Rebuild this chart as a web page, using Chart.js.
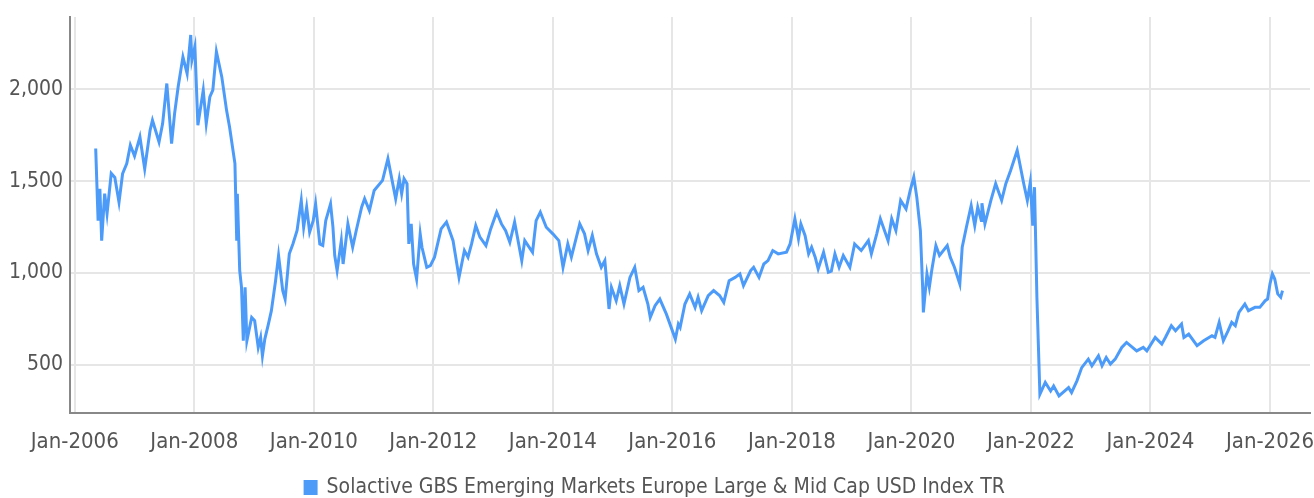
<!DOCTYPE html>
<html>
<head>
<meta charset="utf-8">
<script src="https://cdn.jsdelivr.net/npm/chart.js@4.4.1/dist/chart.umd.min.js"></script>
<style>
  html, body { margin: 0; padding: 0; background: #fff; overflow: hidden; }
  #wrap { width: 1314px; height: 508px; position: relative; }
</style>
</head>
<body>
<div id="wrap"><canvas id="chart"></canvas></div>
<script>
  // index level, dates as decimal years
  const seriesName = 'Solactive GBS Emerging Markets Europe Large & Mid Cap USD Index TR';

  const dates = [
    2006.35, 2006.39, 2006.42, 2006.45, 2006.50, 2006.54, 2006.61, 2006.67, 2006.74, 2006.80,
    2006.87, 2006.93, 2007.00, 2007.09, 2007.17, 2007.26, 2007.30, 2007.41, 2007.47, 2007.54,
    2007.62, 2007.67, 2007.73, 2007.81, 2007.88, 2007.94, 2007.96, 2008.01, 2008.06, 2008.15,
    2008.20, 2008.26, 2008.31, 2008.37, 2008.46, 2008.54, 2008.59, 2008.68, 2008.71, 2008.72,
    2008.76, 2008.79, 2008.82, 2008.85, 2008.88, 2008.96, 2009.01, 2009.07, 2009.11, 2009.14,
    2009.18, 2009.24, 2009.29, 2009.36, 2009.41, 2009.48, 2009.52, 2009.59, 2009.65, 2009.72,
    2009.79, 2009.83, 2009.88, 2009.93, 2009.99, 2010.03, 2010.10, 2010.15, 2010.20, 2010.28,
    2010.32, 2010.35, 2010.39, 2010.46, 2010.49, 2010.57, 2010.65, 2010.71, 2010.80, 2010.85,
    2010.93, 2011.01, 2011.15, 2011.24, 2011.31, 2011.37, 2011.43, 2011.47, 2011.51, 2011.56,
    2011.59, 2011.63, 2011.67, 2011.72, 2011.78, 2011.81, 2011.89, 2011.95, 2012.02, 2012.13,
    2012.22, 2012.33, 2012.43, 2012.52, 2012.58, 2012.64, 2012.71, 2012.78, 2012.88, 2012.96,
    2013.06, 2013.14, 2013.21, 2013.28, 2013.36, 2013.48, 2013.53, 2013.66, 2013.72, 2013.79,
    2013.89, 2014.00, 2014.10, 2014.17, 2014.25, 2014.31, 2014.45, 2014.53, 2014.59, 2014.66,
    2014.73, 2014.81, 2014.87, 2014.94, 2014.98, 2015.06, 2015.12, 2015.19, 2015.29, 2015.37,
    2015.44, 2015.51, 2015.59, 2015.63, 2015.71, 2015.79, 2015.90, 2016.05, 2016.10, 2016.13,
    2016.21, 2016.29, 2016.38, 2016.43, 2016.49, 2016.60, 2016.69, 2016.79, 2016.86, 2016.95,
    2017.05, 2017.13, 2017.19, 2017.31, 2017.36, 2017.45, 2017.53, 2017.60, 2017.68, 2017.77,
    2017.91, 2017.97, 2018.05, 2018.11, 2018.15, 2018.22, 2018.28, 2018.33, 2018.39, 2018.44,
    2018.53, 2018.61, 2018.66, 2018.72, 2018.79, 2018.86, 2018.97, 2019.05, 2019.16, 2019.28,
    2019.33, 2019.42, 2019.48, 2019.61, 2019.67, 2019.74, 2019.82, 2019.91, 2019.98, 2020.04,
    2020.09, 2020.15, 2020.19, 2020.20, 2020.26, 2020.30, 2020.34, 2020.41, 2020.47, 2020.60,
    2020.65, 2020.72, 2020.81, 2020.85, 2020.92, 2021.00, 2021.06, 2021.11, 2021.17, 2021.18,
    2021.23, 2021.33, 2021.41, 2021.51, 2021.58, 2021.66, 2021.77, 2021.88, 2021.94, 2021.99,
    2022.03, 2022.06, 2022.10, 2022.15, 2022.24, 2022.33, 2022.38, 2022.47, 2022.63, 2022.68,
    2022.77, 2022.85, 2022.96, 2023.02, 2023.13, 2023.19, 2023.26, 2023.33, 2023.41, 2023.52,
    2023.60, 2023.77, 2023.88, 2023.94, 2024.08, 2024.19, 2024.25, 2024.35, 2024.42, 2024.52,
    2024.56, 2024.64, 2024.78, 2024.89, 2025.03, 2025.08, 2025.15, 2025.22, 2025.30, 2025.36,
    2025.42, 2025.48, 2025.58, 2025.64, 2025.75, 2025.83, 2025.92, 2025.96, 2026.00, 2026.04,
    2026.08, 2026.13, 2026.18, 2026.21
  ];

  const values = [
    1677, 1285, 1458, 1176, 1432, 1323, 1542, 1520, 1385, 1540,
    1595, 1695, 1636, 1740, 1567, 1776, 1831, 1713, 1813, 2031,
    1704, 1867, 2013, 2176, 2085, 2295, 2158, 2231, 1804, 1995,
    1813, 1958, 1995, 2204, 2067, 1885, 1794, 1595, 1176, 1431,
    1013, 922, 631, 922, 631, 758, 740, 595, 649, 549,
    640, 722, 795, 958, 1095, 904, 858, 1104, 1158, 1231,
    1395, 1249, 1358, 1222, 1285, 1376, 1158, 1150, 1285, 1376,
    1249, 1095, 1013, 1176, 1049, 1267, 1140, 1231, 1358, 1404,
    1340, 1449, 1504, 1622, 1504, 1404, 1513, 1431, 1513, 1486,
    1158, 1267, 1049, 967, 1213, 1140, 1031, 1040, 1086, 1240,
    1277, 1176, 976, 1122, 1086, 1158, 1258, 1195, 1149, 1240,
    1331, 1267, 1230, 1167, 1277, 1067, 1176, 1113, 1285, 1331,
    1249, 1213, 1176, 1031, 1158, 1086, 1267, 1213, 1122, 1204,
    1104, 1031, 1067, 804, 922, 849, 931, 831, 976, 1031,
    904, 922, 831, 758, 822, 858, 776, 640, 722, 704,
    831, 886, 813, 868, 795, 877, 904, 877, 840, 958,
    976, 995, 931, 1013, 1031, 976, 1049, 1067, 1122, 1104,
    1113, 1158, 1295, 1186, 1267, 1204, 1104, 1140, 1086, 1022,
    1113, 1004, 1010, 1104, 1031, 1095, 1031, 1158, 1122, 1176,
    1104, 1213, 1295, 1176, 1295, 1231, 1395, 1349, 1449, 1522,
    1413, 1231, 904, 785, 995, 922, 1013, 1149, 1095, 1149,
    1086, 1031, 940, 1140, 1249, 1367, 1258, 1358, 1285, 1380,
    1267, 1395, 1486, 1395, 1486, 1558, 1667, 1486, 1395, 1495,
    1258, 1467, 868, 340, 404, 358, 385, 331, 376, 349,
    413, 485, 531, 495, 549, 495, 540, 504, 531, 595,
    622, 576, 595, 576, 649, 613, 649, 713, 686, 722,
    649, 667, 604, 631, 658, 650, 731, 631, 686, 731,
    713, 785, 831, 795, 813, 813, 849, 858, 940, 995,
    967, 886, 868, 904
  ];

  const yTicks = [500, 1000, 1500, 2000];
  const xTicks = [2006, 2008, 2010, 2012, 2014, 2016, 2018, 2020, 2022, 2024, 2026];

  const fontFamily = "'DejaVu Sans Condensed', 'DejaVu Sans', sans-serif";
  const lineColor = '#4d9bf9';

  new Chart(document.getElementById('chart'), {
    type: 'line',
    data: {
      datasets: [{
        label: seriesName,
        data: dates.map((d, i) => ({ x: d, y: values[i] })),
        borderColor: lineColor,
        backgroundColor: lineColor,
        borderWidth: 3,
        pointRadius: 0,
        tension: 0
      }]
    },
    options: {
      responsive: true,
      maintainAspectRatio: false,
      animation: false,
      layout: { padding: { top: 17, right: 4, left: 0, bottom: 0 } },
      plugins: {
        tooltip: { enabled: false },
        legend: {
          position: 'bottom',
          labels: {
            color: '#555',
            boxWidth: 11,
            boxHeight: 12,
            padding: 10,
            font: { family: fontFamily, size: 21 }
          }
        }
      },
      scales: {
        x: {
          type: 'linear',
          min: 2005.92,
          max: 2026.67,
          afterBuildTicks: s => { s.ticks = xTicks.map(v => ({ value: v })); },
          afterFit: s => { s.height = 54; s.paddingLeft = 0; s.paddingRight = 0; },
          grid: { color: '#e6e6e6', lineWidth: 2, drawTicks: false },
          border: { color: '#888', width: 2 },
          ticks: {
            color: '#555',
            padding: 16,
            maxRotation: 0,
            font: { family: fontFamily, size: 22 },
            callback: v => 'Jan-' + v
          }
        },
        y: {
          min: 238,
          max: 2393,
          afterBuildTicks: s => { s.ticks = yTicks.map(v => ({ value: v })); },
          afterFit: s => { s.width = 70; s.paddingTop = 0; s.paddingBottom = 0; },
          grid: { color: '#e6e6e6', lineWidth: 2, drawTicks: false },
          border: { color: '#888', width: 2 },
          ticks: {
            color: '#555',
            padding: 7,
            font: { family: fontFamily, size: 21 },
            callback: v => v.toLocaleString('en-US')
          }
        }
      }
    }
  });
</script>
</body>
</html>
